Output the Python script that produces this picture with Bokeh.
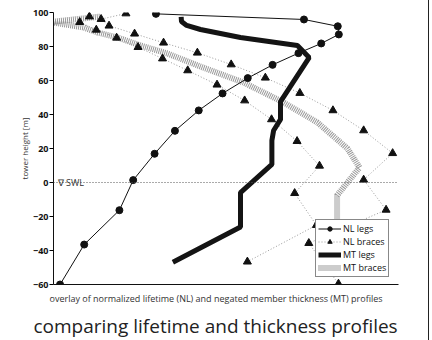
from bokeh.plotting import figure
from bokeh.models import (Range1d, FixedTicker, Span, Label, Legend, LegendItem, Title)
from bokeh.embed import file_html
from bokeh.resources import INLINE

# ---- data (x: normalized profile value, y: tower height [m]) ----
nl_legs_x = [0.019, 0.089, 0.191, 0.231, 0.293, 0.352, 0.421, 0.490, 0.563, 0.635,
             0.710, 0.776, 0.827, 0.824, 0.726, 0.297]
nl_legs_y = [-60, -36.5, -16.3, 1.4, 16.9, 30.4, 42.4, 52.4, 61.4, 69.2,
             76.1, 81.8, 87.1, 91.9, 95.9, 99.2]

nl_br_a_x = [0.210, 0.138, 0.161, 0.235, 0.319, 0.417, 0.515, 0.614, 0.714, 0.810,
             0.899, 0.983, 0.899, 0.964, 0.740, 0.826]
nl_br_a_y = [99.4, 96.1, 92.2, 87.5, 82.2, 76.3, 69.4, 61.6, 52.6, 42.4,
             30.6, 17.2, 1.6, -16.1, -35.7, -59.6]
nl_br_b_x = [0.104, 0.076, 0.124, 0.183, 0.245, 0.316, 0.389, 0.474, 0.554, 0.632,
             0.706, 0.771, 0.699, 0.762, 0.562]
nl_br_b_y = [97.6, 94.3, 89.8, 85.1, 79.6, 72.9, 65.9, 57.5, 48.2, 37.1,
             24.3, 9.8, -6.3, -25.1, -46.6]

mt_legs_x = [0.346, 0.542, 0.542, 0.633, 0.633, 0.638, 0.658, 0.658, 0.741, 0.707,
             0.542, 0.426, 0.386, 0.371, 0.370]
mt_legs_y = [-46.9, -26.2, -5.9, 10.6, 24.7, 30.6, 37.1, 47.6, 73.5, 80.6,
             85.3, 90.0, 92.4, 94.7, 97.4]

mt_br_x = [0.822, 0.822, 0.822, 0.887, 0.852, 0.765, 0.667, 0.551, 0.426, 0.330,
           0.252, 0.186, 0.128, 0.087, -0.009, 0.136]
mt_br_y = [-43, -27.1, -7.6, 8.8, 20, 35.3, 47.1, 58.8, 68.2, 75.9,
           80.6, 85.3, 88.2, 91.2, 94.4, 97.6]

y_ticks = [-60, -40, -20, 0, 20, 40, 60, 80, 100]
y_tick_labels = ["\u221260", "\u221240", "\u221220", "0", "20", "40", "60", "80", "100"]

FONT = "Open Sans"

p = figure(width=429, height=340, output_backend="svg", toolbar_location=None,
           x_range=Range1d(0, 1), y_range=Range1d(-60, 100),
           min_border_left=53, min_border_right=31, min_border_top=12, min_border_bottom=4,
           styles={"border-right": "1px solid #222"})
p.outline_line_color = None
p.xgrid.visible = False
p.ygrid.visible = False
p.background_fill_color = "white"
p.border_fill_color = "white"

# y axis
p.yaxis.ticker = FixedTicker(ticks=y_ticks)
p.yaxis.major_label_overrides = {t: l for t, l in zip(y_ticks, y_tick_labels)}
p.yaxis.minor_tick_line_color = None
p.yaxis.major_tick_in = 0
p.yaxis.major_tick_out = 4
p.yaxis.major_label_standoff = 1
p.yaxis.major_label_text_font = FONT
p.yaxis.major_label_text_font_style = "bold"
p.yaxis.major_label_text_font_size = "9px"
p.yaxis.major_label_text_color = "#111"
p.yaxis.axis_label = "tower height [m]"
p.yaxis.axis_label_text_font = FONT
p.yaxis.axis_label_text_font_style = "normal"
p.yaxis.axis_label_text_font_size = "8px"
p.yaxis.axis_label_text_color = "#333"
p.yaxis.axis_label_standoff = 0
p.yaxis.axis_line_color = "#111"

# x axis: line only
p.xaxis.ticker = FixedTicker(ticks=[])
p.xaxis.minor_tick_line_color = None
p.xaxis.major_tick_line_color = None
p.xaxis.axis_line_color = "#111"

p.add_layout(Title(text="overlay of normalized lifetime (NL) and negated member thickness (MT) profiles",
                   align="left", offset=-4, text_font=FONT, text_font_size="9px",
                   text_font_style="normal", text_color="#333", standoff=10), "below")
p.add_layout(Title(text="comparing lifetime and thickness profiles", align="left", offset=-20,
                   text_font=FONT, text_font_size="19px", text_font_style="normal",
                   text_color="#222", standoff=3), "below")

# SWL
p.add_layout(Span(location=0, dimension="width", line_color="#555", line_width=1, line_dash="1 2"))
p.add_layout(Label(x=0.012, y=0, text="\u2207  SWL", text_font=FONT, text_font_size="9px",
                   text_color="#333", text_baseline="alphabetic"))

# series
r_mtb = p.line(mt_br_x, mt_br_y, line_color="#999999", line_width=6, line_dash="1 1")
r_nlb_l = p.multi_line([nl_br_a_x, nl_br_b_x], [nl_br_a_y, nl_br_b_y],
                       line_color="#999999", line_width=1, line_dash="1 2")
r_nlb_m = p.scatter(nl_br_a_x + nl_br_b_x, nl_br_a_y + nl_br_b_y, marker="triangle",
                    size=8, fill_color="#111", line_color="#111")
r_mtl = p.line(mt_legs_x, mt_legs_y, line_color="#141414", line_width=5)
r_nll_l = p.line(nl_legs_x, nl_legs_y, line_color="#111", line_width=1)
r_nll_m = p.scatter(nl_legs_x, nl_legs_y, marker="circle", size=7,
                    fill_color="#111", line_color="#111")

legend = Legend(items=[
    LegendItem(label="NL legs", renderers=[r_nll_l, r_nll_m]),
    LegendItem(label="NL braces", renderers=[r_nlb_l, r_nlb_m]),
    LegendItem(label="MT legs", renderers=[r_mtl]),
    LegendItem(label="MT braces", renderers=[r_mtb]),
], location=(262, 7))
legend.label_text_font = FONT
legend.label_text_font_size = "9px"
legend.label_text_color = "#111"
legend.label_height = 11
legend.glyph_height = 11
legend.glyph_width = 23
legend.label_standoff = 2
legend.spacing = 0
legend.padding = 2
legend.margin = 0
legend.border_line_color = "#111"
legend.border_line_width = 1
legend.background_fill_alpha = 1
p.add_layout(legend, "center")

open("out.html", "w").write(file_html(p, INLINE))
